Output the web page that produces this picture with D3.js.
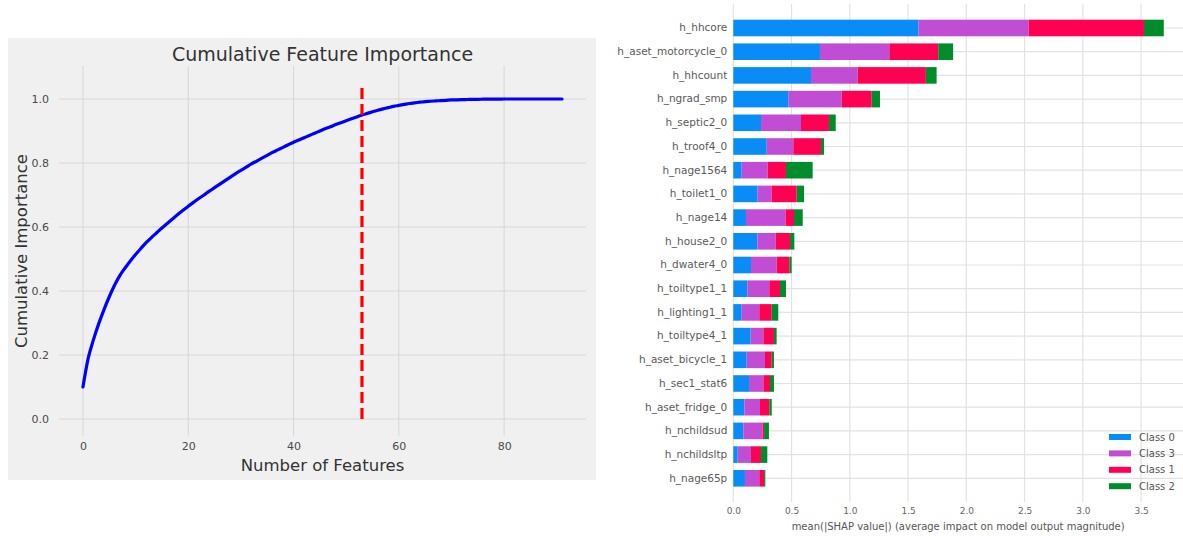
<!DOCTYPE html>
<html>
<head>
<meta charset="utf-8">
<script src="https://cdn.jsdelivr.net/npm/d3@7"></script>
<style>
  html, body { margin: 0; padding: 0; background: #ffffff; }
  svg { display: block; font-family: "DejaVu Sans", sans-serif; }
</style>
</head>
<body>
<svg id="chart" width="1183" height="536"></svg>
<script>
// ---- Cumulative feature importance (features 0..91) ----
const cumulativeImportance = [
  0.100, 0.190, 0.248, 0.298, 0.342, 0.382, 0.418, 0.448, 0.472, 0.494,
  0.514, 0.533, 0.551, 0.567, 0.582, 0.597, 0.611, 0.625, 0.639, 0.652,
  0.665, 0.677, 0.689, 0.700, 0.712, 0.723, 0.734, 0.745, 0.756, 0.767,
  0.777, 0.787, 0.797, 0.806, 0.815, 0.824, 0.833, 0.841, 0.849, 0.857,
  0.865, 0.872, 0.879, 0.886, 0.893, 0.900, 0.907, 0.913, 0.920, 0.926,
  0.932, 0.938, 0.944, 0.950, 0.955, 0.960, 0.965, 0.969, 0.973, 0.977,
  0.980, 0.983, 0.986, 0.988, 0.990, 0.992, 0.993, 0.994, 0.995, 0.996,
  0.997, 0.9975, 0.998, 0.9985, 0.999, 0.999, 0.9993, 0.9995, 0.9997, 0.9998,
  1.000, 1.000, 1.000, 1.000, 1.000, 1.000, 1.000, 1.000, 1.000, 1.000,
  1.000, 1.000
];
const thresholdFeatures = 53;      // features needed for 95% importance
const thresholdLineTop = 1.05;
const cumXTicks = [0, 20, 40, 60, 80];
const cumYTicks = [0.0, 0.2, 0.4, 0.6, 0.8, 1.0];

// ---- Mean |SHAP| per feature and class ----
const shapFeatures = [
  "h_hhcore", "h_aset_motorcycle_0", "h_hhcount", "h_ngrad_smp", "h_septic2_0",
  "h_troof4_0", "h_nage1564", "h_toilet1_0", "h_nage14", "h_house2_0",
  "h_dwater4_0", "h_toiltype1_1", "h_lighting1_1", "h_toiltype4_1", "h_aset_bicycle_1",
  "h_sec1_stat6", "h_aset_fridge_0", "h_nchildsud", "h_nchildsltp", "h_nage65p"
];
const classNames = ["Class 0", "Class 3", "Class 1", "Class 2"];
const class0 = [1.590, 0.744, 0.667, 0.475, 0.238, 0.287, 0.072, 0.209, 0.109, 0.206,
                0.152, 0.120, 0.072, 0.149, 0.115, 0.135, 0.095, 0.086, 0.038, 0.100];
const class3 = [0.945, 0.595, 0.400, 0.455, 0.343, 0.228, 0.223, 0.121, 0.340, 0.158,
                0.220, 0.189, 0.151, 0.109, 0.157, 0.123, 0.134, 0.166, 0.114, 0.123];
const class1 = [0.990, 0.420, 0.586, 0.258, 0.240, 0.238, 0.157, 0.214, 0.072, 0.123,
                0.109, 0.092, 0.107, 0.091, 0.058, 0.057, 0.080, 0.012, 0.086, 0.041];
const class2 = [0.170, 0.128, 0.092, 0.071, 0.058, 0.026, 0.229, 0.063, 0.075, 0.037,
                0.020, 0.051, 0.056, 0.023, 0.019, 0.034, 0.021, 0.042, 0.054, 0.011];
const shapXTicks = [0, 0.5, 1.0, 1.5, 2.0, 2.5, 3.0, 3.5];
const classColors = ["#0a8cf7", "#c04dd4", "#ff0052", "#008c2a"];

const svg = d3.select("#chart");

// ================= Left panel: cumulative importance =================
const left = svg.append("g");
left.append("rect")
  .attr("x", 8).attr("y", 38).attr("width", 588).attr("height", 442)
  .attr("fill", "#f0f0f0");

const xL = d3.scaleLinear().domain([-4.55, 95.55]).range([59, 586]);
const yL = d3.scaleLinear().domain([-0.0525, 1.1025]).range([435.8, 66.2]);

// grid
left.append("g").selectAll("line").data(cumXTicks).join("line")
  .attr("x1", d => xL(d)).attr("x2", d => xL(d))
  .attr("y1", yL.range()[0]).attr("y2", yL.range()[1])
  .attr("stroke", "#d6d6d6").attr("stroke-width", 1);
left.append("g").selectAll("line").data(cumYTicks).join("line")
  .attr("x1", xL.range()[0]).attr("x2", xL.range()[1])
  .attr("y1", d => yL(d)).attr("y2", d => yL(d))
  .attr("stroke", "#d6d6d6").attr("stroke-width", 1);

// axes (tick labels only)
const axBottomL = left.append("g")
  .attr("transform", `translate(0,${yL.range()[0]})`)
  .call(d3.axisBottom(xL).tickValues(cumXTicks).tickSize(0).tickPadding(6).tickFormat(d3.format("d")));
const axLeftL = left.append("g")
  .attr("transform", `translate(${xL.range()[0]},0)`)
  .call(d3.axisLeft(yL).tickValues(cumYTicks).tickSize(0).tickPadding(10).tickFormat(d3.format(".1f")));
[axBottomL, axLeftL].forEach(a => {
  a.select(".domain").remove();
  a.selectAll("text").attr("fill", "#4a4a4a").style("font-size", "11px")
    .style("font-family", "DejaVu Sans, sans-serif");
});

// curve
const line = d3.line().x((d, i) => xL(i)).y(d => yL(d)).curve(d3.curveMonotoneX);
left.append("path")
  .datum(cumulativeImportance)
  .attr("d", line)
  .attr("fill", "none").attr("stroke", "#0000ff").attr("stroke-width", 3.2)
  .attr("stroke-linecap", "round");

// threshold line
left.append("line")
  .attr("x1", xL(thresholdFeatures)).attr("x2", xL(thresholdFeatures))
  .attr("y1", yL(0)).attr("y2", yL(thresholdLineTop))
  .attr("stroke", "#ff0000").attr("stroke-width", 3.2)
  .attr("stroke-dasharray", "11,5");

// titles
left.append("text")
  .attr("x", (xL.range()[0] + xL.range()[1]) / 2).attr("y", 61)
  .attr("text-anchor", "middle").attr("fill", "#333")
  .style("font-size", "19px").text("Cumulative Feature Importance");
left.append("text")
  .attr("x", (xL.range()[0] + xL.range()[1]) / 2).attr("y", 471)
  .attr("text-anchor", "middle").attr("fill", "#333")
  .style("font-size", "16.5px").text("Number of Features");
left.append("text")
  .attr("transform", `translate(27,${(yL.range()[0] + yL.range()[1]) / 2}) rotate(-90)`)
  .attr("text-anchor", "middle").attr("fill", "#333")
  .style("font-size", "16.5px").text("Cumulative Importance");

// ================= Right panel: SHAP summary bars =================
const right = svg.append("g");
const xR = d3.scaleLinear().domain([0, 3.86]).range([733.3, 1183]);
const yR = d3.scaleBand().domain(shapFeatures).range([16.15, 490.15])
  .paddingInner(0.3).paddingOuter(0.15);
const plotTop = 4, plotBottom = 502;

right.append("g").selectAll("line").data(shapXTicks).join("line")
  .attr("x1", d => xR(d)).attr("x2", d => xR(d))
  .attr("y1", plotTop).attr("y2", plotBottom)
  .attr("stroke", "#e2e2e2").attr("stroke-width", 1.2);
right.append("g").selectAll("line").data(shapFeatures).join("line")
  .attr("x1", xR(0)).attr("x2", xR.range()[1])
  .attr("y1", d => yR(d) + yR.bandwidth() / 2).attr("y2", d => yR(d) + yR.bandwidth() / 2)
  .attr("stroke", "#e2e2e2").attr("stroke-width", 1.2);

const table = shapFeatures.map((f, i) => ({
  feature: f, "Class 0": class0[i], "Class 3": class3[i], "Class 1": class1[i], "Class 2": class2[i]
}));
const stacked = d3.stack().keys(classNames)(table);

right.append("g").selectAll("g").data(stacked).join("g")
  .attr("fill", (d, i) => classColors[i])
  .selectAll("rect").data(d => d).join("rect")
  .attr("x", d => xR(d[0]))
  .attr("width", d => xR(d[1]) - xR(d[0]))
  .attr("y", d => yR(d.data.feature))
  .attr("height", yR.bandwidth());

// feature labels
const axLeftR = right.append("g")
  .attr("transform", `translate(${xR(0)},0)`)
  .call(d3.axisLeft(yR).tickSize(0).tickPadding(6));
axLeftR.select(".domain").remove();
axLeftR.selectAll("text").attr("fill", "#5a5a5a").style("font-size", "10.5px")
  .style("font-family", "DejaVu Sans, sans-serif");

const axBottomR = right.append("g")
  .attr("transform", `translate(0,${plotBottom})`)
  .call(d3.axisBottom(xR).tickValues(shapXTicks).tickSize(0).tickPadding(6).tickFormat(d3.format(".1f")));
axBottomR.select(".domain").remove();
axBottomR.selectAll("text").attr("fill", "#666").style("font-size", "9px")
  .style("font-family", "DejaVu Sans, sans-serif");

right.append("text")
  .attr("x", (xR.range()[0] + xR.range()[1]) / 2).attr("y", 530)
  .attr("text-anchor", "middle").attr("fill", "#555")
  .style("font-size", "10px")
  .text("mean(|SHAP value|) (average impact on model output magnitude)");

// legend
const legend = right.append("g").attr("transform", "translate(1109,437)");
const legendItems = legend.selectAll("g").data(classNames).join("g")
  .attr("transform", (d, i) => `translate(0,${i * 16.4})`);
legendItems.append("rect")
  .attr("x", 0).attr("y", -3).attr("width", 22).attr("height", 6)
  .attr("fill", (d, i) => classColors[i]);
legendItems.append("text")
  .attr("x", 30).attr("y", 0).attr("dy", "0.35em")
  .attr("fill", "#555").style("font-size", "10px")
  .text(d => d);
</script>
</body>
</html>
